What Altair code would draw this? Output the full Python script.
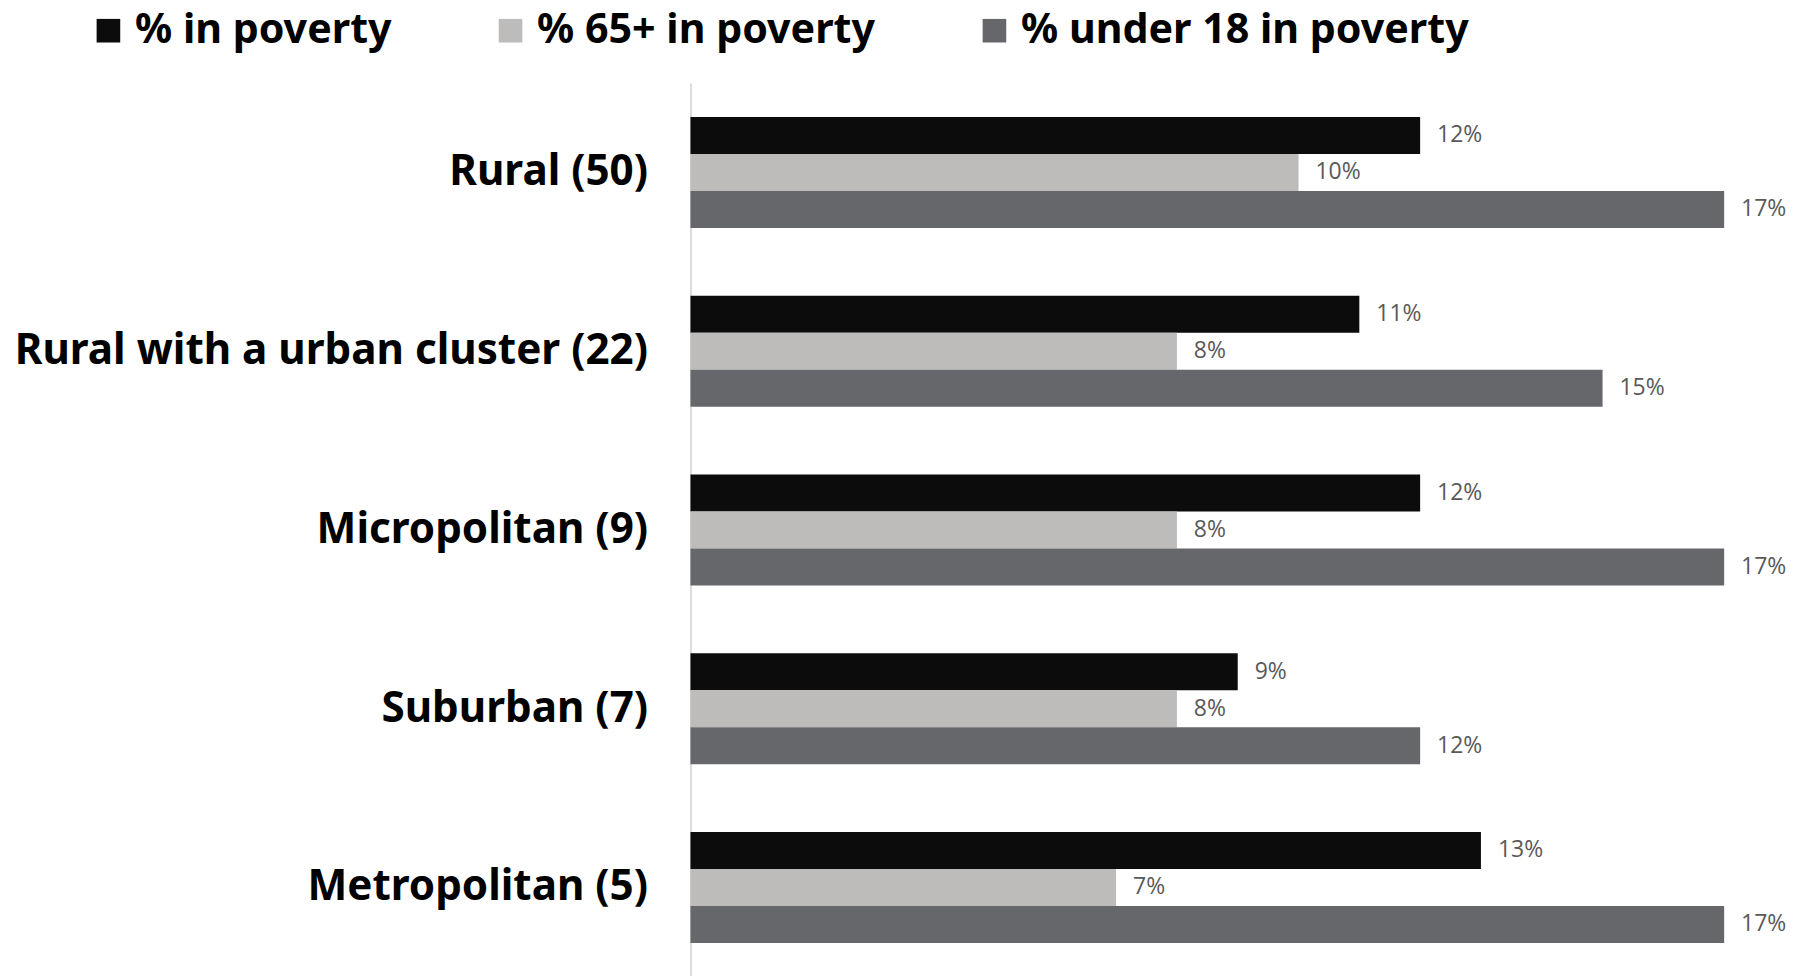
import altair as alt
import pandas as pd

categories = ["Rural (50)", "Rural with a urban cluster (22)", "Micropolitan (9)", "Suburban (7)", "Metropolitan (5)"]
series = ["% in poverty", "% 65+ in poverty", "% under 18 in poverty"]
pct_all = [12, 11, 12, 9, 13]
pct_65 = [10, 8, 8, 8, 7]
pct_u18 = [17, 15, 17, 12, 17]
colors = ["#0c0c0c", "#bdbcba", "#66676b"]

rows = []
for i, c in enumerate(categories):
    for s, vals in zip(series, [pct_all, pct_65, pct_u18]):
        rows.append({"category": c, "series": s, "value": vals[i]})
df = pd.DataFrame(rows)

base = alt.Chart(df).encode(
    y=alt.Y("category:N", sort=categories, title=None,
            scale=alt.Scale(paddingInner=0.379, paddingOuter=0.19),
            axis=alt.Axis(labelFont="Noto Sans", labelFontWeight="bold", labelFontSize=42.3,
                          labelColor="#000000", ticks=False, labelPadding=43,
                          domainColor="#dcdcdc", domainWidth=2, labelLimit=1000)),
    yOffset=alt.YOffset("series:N", sort=series, scale=alt.Scale(paddingInner=0, paddingOuter=0)),
    x=alt.X("value:Q", scale=alt.Scale(domain=[0, 17], nice=False, zero=True), axis=None),
)

bars = base.mark_bar().encode(
    color=alt.Color("series:N", sort=series,
                    scale=alt.Scale(domain=series, range=colors),
                    legend=alt.Legend(orient="none", legendX=-604, legendY=-73, direction="horizontal",
                                      title=None, symbolType="square", symbolSize=560,
                                      symbolStrokeWidth=0, labelFont="Noto Sans",
                                      labelFontWeight="bold", labelFontSize=41.3, labelColor="#000000",
                                      labelOffset=6, columnPadding=98, labelLimit=1000))
)

labels = base.mark_text(align="left", baseline="middle", dx=17, font="Open Sans",
                        fontSize=23, color="#595959").encode(
    text=alt.Text("label:N")
).transform_calculate(label="datum.value + '%'")

chart = (bars + labels).properties(
    width=1036, height=896,
    autosize=alt.AutoSizeParams(type="none"),
    padding={"left": 684, "top": 74, "right": 70, "bottom": 0},
).configure_view(strokeWidth=0, stroke="transparent")

chart.save("out.html", embed_options={"renderer": "svg", "actions": False})
